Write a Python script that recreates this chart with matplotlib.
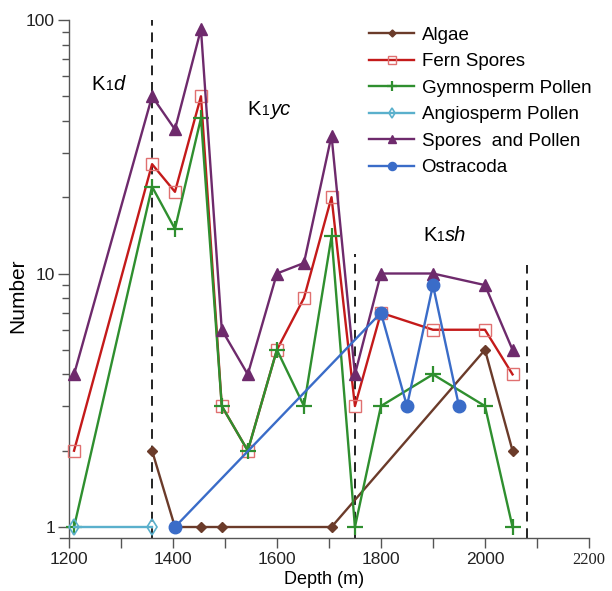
import matplotlib
matplotlib.use("Agg")
import matplotlib.pyplot as plt
from matplotlib.ticker import FixedLocator, NullFormatter, LogLocator
from matplotlib.transforms import offset_copy

plt.rcParams['font.family'] = ['Liberation Sans', 'DejaVu Sans']

# ---- data ----
sp_depth = [1210, 1360, 1404, 1454, 1494, 1544, 1600, 1652, 1705, 1750, 1800, 1900, 2000, 2053]
spores_pollen = [4, 50, 37, 92, 6, 4, 10, 11, 35, 4, 10, 10, 9, 5]
fern_spores = [2, 27, 21, 50, 3, 2, 5, 8, 20, 3, 7, 6, 6, 4]
gymno_pollen = [1, 22, 15, 41, 3, 2, 5, 3, 14, 1, 3, 4, 3, 1]

angio_depth = [1210, 1360]
angio_pollen = [1, 1]

algae_depth = [1360, 1404, 1454, 1494, 1705, 2000, 2053]
algae = [2, 1, 1, 1, 1, 5, 2]

ostra_depth = [1404, 1800, 1850, 1900, 1950]
ostracoda = [1, 7, 3, 9, 3]

boundaries = [1360, 1750, 2080]
boundary_top = [100, 11.9, 10.8]
units = ['d', 'yc', 'sh']
unit_x = [1244, 1544, 1881]
unit_y = [53, 42.3, 13.4]

x_ticks = [1200, 1400, 1600, 1800, 2000, 2200]
x_minor = [1300, 1500, 1700, 1900, 2100]
y_ticks = [1, 10, 100]

# ---- style ----
c_algae = '#6b3b2a'
c_fern = '#c41a1a'
c_fern_m = '#e07070'
c_gym = '#2f8f2f'
c_ang = '#5ab0cc'
c_sp = '#6e2a6c'
c_ost = '#3a6cc8'
axis_col = '#555555'

fig = plt.figure(figsize=(6.12, 5.91), dpi=100)
ax = fig.add_axes([60/612, 1-538/591, 529/612, 518/591])
ax.set_yscale('log')
ax.set_xlim(1183, 2200)
ax.set_ylim(0.905, 100)

lw = 1.7
ax.plot(algae_depth, algae, color=c_algae, lw=lw, marker='D', ms=5.5,
        mfc=c_algae, mec=c_algae, label='Algae', zorder=3)
ax.plot(sp_depth, fern_spores, color=c_fern, lw=lw, marker='s', ms=8,
        mfc='none', mec=c_fern_m, mew=1.0, label='Fern Spores', zorder=3)
ax.plot(sp_depth, gymno_pollen, color=c_gym, lw=lw, marker='+', ms=11,
        mec=c_gym, mew=1.6, label='Gymnosperm Pollen', zorder=3)
ax.plot(angio_depth, angio_pollen, color=c_ang, lw=lw, marker='d', ms=8,
        mfc='none', mec=c_ang, mew=1.2, label='Angiosperm Pollen', zorder=3)
ax.plot(sp_depth, spores_pollen, color=c_sp, lw=lw, marker='^', ms=8,
        mfc=c_sp, mec=c_sp, label='Spores  and Pollen', zorder=3)
ax.plot(ostra_depth, ostracoda, color=c_ost, lw=lw, marker='o', ms=9,
        mfc=c_ost, mec=c_ost, label='Ostracoda', zorder=4)

for bx, bt in zip(boundaries, boundary_top):
    ax.vlines(bx, 0.905, bt, colors='#222222', linestyles=(0, (5, 3.5)), lw=1.4, zorder=2)

# spines
for s in ['top', 'right']:
    ax.spines[s].set_visible(False)
ax.spines['left'].set_position(('data', 1200))
for s in ['left', 'bottom']:
    ax.spines[s].set_color(axis_col)
    ax.spines[s].set_linewidth(1.0)

ax.xaxis.set_major_locator(FixedLocator(x_ticks))
ax.xaxis.set_minor_locator(FixedLocator(x_minor))
ax.set_xticklabels([str(t) for t in x_ticks])
ax.tick_params(axis='x', which='both', direction='out', length=7, width=1, color=axis_col,
               labelsize=12.5, labelcolor='#222222', pad=3)
labels = ax.get_xticklabels()
labels[-1].set_family('Liberation Serif')
labels[-1].set_fontsize(12)

ax.yaxis.set_major_locator(FixedLocator(y_ticks))
ax.set_yticklabels([str(t) for t in y_ticks])
ax.yaxis.set_minor_locator(LogLocator(base=10, subs=range(2, 10)))
ax.yaxis.set_minor_formatter(NullFormatter())
ax.tick_params(axis='y', which='major', direction='out', length=8, width=1, color=axis_col,
               labelsize=12.5, labelcolor='#222222', pad=2)
ax.tick_params(axis='y', which='minor', direction='out', length=5, width=1, color=axis_col)

ax.set_xlabel('Depth (m)', fontsize=13, labelpad=2)
fig.text(18/612, 1-296/591, 'Number', rotation=90, fontsize=15, va='center', ha='center')

leg = ax.legend(loc='upper left', bbox_to_anchor=(369/612, 1-26.5/591), bbox_transform=fig.transFigure,
                frameon=False, fontsize=13.5, handlelength=2.4, handletextpad=0.4,
                labelspacing=0.5, borderpad=0, borderaxespad=0, markerscale=0.65)

# unit labels: K, small 1, italic suffix, all on one baseline
fig.canvas.draw()
renderer = fig.canvas.get_renderer()
for u, ux, uy in zip(units, unit_x, unit_y):
    t1 = ax.text(ux, uy, 'K', fontsize=14.5, va='baseline', ha='left')
    w1 = t1.get_window_extent(renderer).width
    tr2 = offset_copy(ax.transData, fig=fig, x=w1 + 0.5, y=0, units='dots')
    t2 = ax.text(ux, uy, '1', fontsize=10, va='baseline', ha='left', transform=tr2)
    w2 = t2.get_window_extent(renderer).width
    tr3 = offset_copy(ax.transData, fig=fig, x=w1 + w2 + 1.0, y=0, units='dots')
    ax.text(ux, uy, u, fontsize=14.5, va='baseline', ha='left', style='italic', transform=tr3)

fig.savefig('out.png', dpi=100)
